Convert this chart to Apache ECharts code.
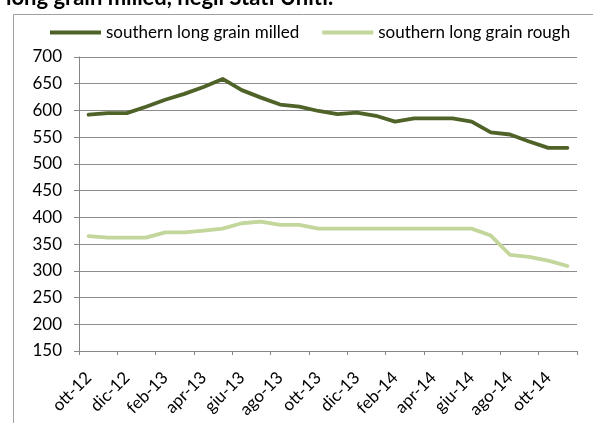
<!DOCTYPE html>
<html>
<head>
<meta charset="utf-8">
<style>
  html, body { margin: 0; padding: 0; background: #ffffff; }
  #chart { width: 593px; height: 423px; }
</style>
<script src="https://cdn.jsdelivr.net/npm/echarts@6/dist/echarts.min.js"></script>
</head>
<body>
<div id="chart"></div>
<script>
// Monthly prices, Oct 2012 – Nov 2014
const months = [
  'ott-12', 'nov-12', 'dic-12', 'gen-13', 'feb-13', 'mar-13', 'apr-13', 'mag-13',
  'giu-13', 'lug-13', 'ago-13', 'set-13', 'ott-13', 'nov-13', 'dic-13', 'gen-14',
  'feb-14', 'mar-14', 'apr-14', 'mag-14', 'giu-14', 'lug-14', 'ago-14', 'set-14',
  'ott-14', 'nov-14'
];
const milled = [
  592, 595, 595, 607, 620, 631, 644, 659, 638, 624, 611, 607,
  599, 593, 596, 590, 579, 585, 585, 585, 579, 559, 555, 542, 530, 530
];
const rough = [
  365, 362, 362, 362, 372, 372, 375, 379, 389, 392, 386, 386,
  379, 379, 379, 379, 379, 379, 379, 379, 379, 366, 330, 326, 319, 309
];
const seriesNames = ['southern long grain milled', 'southern long grain rough'];
const titleText = 'long grain milled, negli Stati Uniti.';

const FONT = 'Lato, "Open Sans", sans-serif';

const chart = echarts.init(document.getElementById('chart'), null, { renderer: 'canvas' });

chart.setOption({
  animation: false,
  backgroundColor: '#ffffff',
  graphic: [
    {
      type: 'rect',
      shape: { x: 13.5, y: 14.5, width: 600, height: 420 },
      style: { fill: 'none', stroke: '#a0a0a0', lineWidth: 1 },
      silent: true
    },
    {
      type: 'text',
      left: 6,
      top: -13,
      style: {
        text: titleText,
        fontFamily: FONT,
        fontWeight: 'bold',
        fontSize: 22,
        fill: '#000000'
      },
      silent: true
    }
  ],
  legend: {
    left: 50,
    top: 24,
    padding: 0,
    itemGap: 23,
    itemWidth: 51,
    itemHeight: 4,
    icon: 'rect',
    textStyle: { fontFamily: FONT, fontSize: 17, color: '#000000', padding: [0, 0, 0, 0] },
    data: seriesNames
  },
  grid: { left: 79, right: 16, top: 57, bottom: 72, containLabel: false },
  xAxis: {
    type: 'category',
    data: months,
    boundaryGap: true,
    axisLine: { lineStyle: { color: '#868686', width: 1 } },
    axisTick: { show: true, interval: 1, length: 4, lineStyle: { color: '#868686' } },
    axisLabel: {
      interval: 1,
      rotate: 45,
      margin: 24,
      fontFamily: FONT,
      fontSize: 17,
      color: '#000000'
    },
    splitLine: { show: false }
  },
  yAxis: {
    type: 'value',
    min: 150,
    max: 700,
    interval: 50,
    axisLine: { show: true, lineStyle: { color: '#868686', width: 1 } },
    axisTick: { show: true, length: 5, lineStyle: { color: '#868686' } },
    axisLabel: { margin: 17, fontFamily: FONT, fontSize: 17, color: '#000000' },
    splitLine: { show: true, lineStyle: { color: '#8c8c8c', width: 1 } }
  },
  series: [
    {
      name: seriesNames[0],
      type: 'line',
      data: milled,
      symbol: 'none',
      color: '#4f6228',
      lineStyle: { width: 3.8, color: '#4f6228', cap: 'round', join: 'round' }
    },
    {
      name: seriesNames[1],
      type: 'line',
      data: rough,
      symbol: 'none',
      color: '#c3d69b',
      lineStyle: { width: 3.8, color: '#c3d69b', cap: 'round', join: 'round' }
    }
  ]
});
</script>
</body>
</html>
